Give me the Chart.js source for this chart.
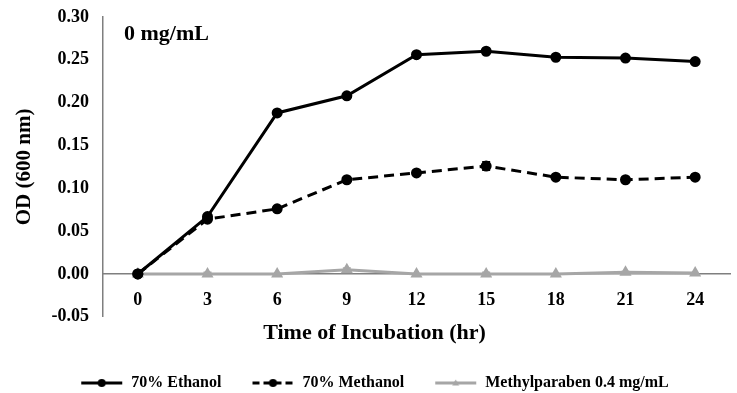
<!DOCTYPE html>
<html>
<head>
<meta charset="utf-8">
<script src="https://cdn.jsdelivr.net/npm/chart.js@4.4.1/dist/chart.umd.min.js"></script>
<style>
  html, body { margin: 0; padding: 0; background: #fff; }
  #wrap { width: 737px; height: 393px; position: relative; }
</style>
</head>
<body>
<div id="wrap"><canvas id="odChart"></canvas></div>
<script>
// values
const hours = ['0', '3', '6', '9', '12', '15', '18', '21', '24']
const ethanol = [0, 0.067, 0.188, 0.208, 0.256, 0.260, 0.253, 0.252, 0.248]
const methanol = [0, 0.064, 0.076, 0.110, 0.118, 0.126, 0.113, 0.110, 0.113]
const paraben = [0, 0, 0, 0.005, 0, 0, 0, 0.002, 0.001]
const methanolErr = [0, 0.002, 0.002, 0.002, 0.002, 0.005, 0.002, 0.002, 0.002]
const parabenErr = [0, 0.002, 0, 0.002, 0, 0.002, 0, 0.001, 0]
const yTicks = [-0.05, 0, 0.05, 0.10, 0.15, 0.20, 0.25, 0.30]

const serif = '"Liberation Serif", "Times New Roman", serif'
const grey = '#a6a6a6'

// legend sample: line + marker drawn on a small canvas
function legendIcon(color, dash, marker) {
    const c = document.createElement('canvas')
    c.width = 43
    c.height = 12
    const g = c.getContext('2d')
    g.strokeStyle = color
    g.fillStyle = color
    g.lineWidth = 3
    g.setLineDash(dash)
    g.beginPath()
    g.moveTo(1, 6)
    g.lineTo(42, 6)
    g.stroke()
    g.setLineDash([])
    g.beginPath()
    if (marker == 'triangle') {
        g.moveTo(21.5, 2.5)
        g.lineTo(25, 8.5)
        g.lineTo(18, 8.5)
        g.closePath()
    } else {
        g.arc(21.5, 6, 4, 0, Math.PI * 2)
    }
    g.fill()
    return c
}

// small vertical error bars
const errorBars = {
    id: 'errorBars',
    afterDatasetsDraw(chart) {
        const ctx = chart.ctx
        const y = chart.scales.y
        chart.data.datasets.forEach((ds, i) => {
            if (!ds.errors) return
            const meta = chart.getDatasetMeta(i)
            ctx.save()
            ctx.strokeStyle = ds.borderColor
            ctx.lineWidth = 1.5
            meta.data.forEach((pt, j) => {
                const e = ds.errors[j]
                if (!e) return
                const top = y.getPixelForValue(ds.data[j] + e)
                const bot = y.getPixelForValue(ds.data[j] - e)
                ctx.beginPath()
                ctx.moveTo(pt.x, top); ctx.lineTo(pt.x, bot)
                ctx.moveTo(pt.x - 4, top); ctx.lineTo(pt.x + 4, top)
                ctx.moveTo(pt.x - 4, bot); ctx.lineTo(pt.x + 4, bot)
                ctx.stroke()
            })
            ctx.restore()
        })
    }
}

// "0 mg/mL" label inside the plot
const panelLabel = {
    id: 'panelLabel',
    afterDraw(chart) {
        const ctx = chart.ctx
        const a = chart.chartArea
        ctx.save()
        ctx.font = 'bold 22px ' + serif
        ctx.fillStyle = '#000'
        ctx.textBaseline = 'middle'
        ctx.fillText('0 mg/mL', a.left + 21, a.top + 17)
        ctx.restore()
    }
}

const ctx = document.getElementById('odChart').getContext('2d')
const odChart = new Chart(ctx, {
    type: 'line',
    data: {
        labels: hours,
        datasets: [{
            label: '70% Ethanol',
            data: ethanol,
            borderColor: '#000',
            backgroundColor: '#000',
            borderWidth: 3,
            pointRadius: 4,
            pointStyle: 'circle',
            icon: legendIcon('#000', [], 'circle')
        }, {
            label: '70% Methanol',
            data: methanol,
            errors: methanolErr,
            borderColor: '#000',
            backgroundColor: '#000',
            borderWidth: 3,
            borderDash: [10, 6],
            pointRadius: 4,
            pointStyle: 'circle',
            icon: legendIcon('#000', [7, 4], 'circle')
        }, {
            label: 'Methylparaben 0.4 mg/mL',
            data: paraben,
            errors: parabenErr,
            borderColor: grey,
            backgroundColor: grey,
            borderWidth: 3,
            pointRadius: 4,
            pointStyle: 'triangle',
            icon: legendIcon(grey, [], 'triangle')
        }]
    },
    options: {
        responsive: true,
        maintainAspectRatio: false,
        animation: false,
        layout: { padding: { top: 17, right: 0, bottom: -8, left: 12 } },
        scales: {
            x: {
                position: { y: 0 },
                offset: true,
                grid: { display: false, drawTicks: false },
                border: { color: '#7f7f7f', width: 1.5 },
                ticks: {
                    padding: 16,
                    color: '#000',
                    font: { family: serif, size: 18, weight: 'bold' }
                }
            },
            y: {
                min: -0.05,
                max: 0.30,
                afterBuildTicks: scale => { scale.ticks = yTicks.map(v => ({ value: v })) },
                afterFit: scale => {
                    scale.width = 91
                    scale.paddingTop = 0
                    scale.paddingBottom = 0
                },
                grid: { display: false, drawTicks: false },
                border: { color: '#7f7f7f', width: 1.5 },
                ticks: {
                    padding: 14,
                    color: '#000',
                    font: { family: serif, size: 18, weight: 'bold' },
                    callback: v => v.toFixed(2)
                },
                title: {
                    display: true,
                    text: 'OD (600 nm)',
                    color: '#000',
                    font: { family: serif, size: 21, weight: 'bold' },
                    padding: { top: 0, bottom: 8 }
                }
            }
        },
        plugins: {
            title: {
                display: true,
                position: 'bottom',
                weight: 500,
                text: 'Time of Incubation (hr)',
                color: '#000',
                font: { family: serif, size: 22, weight: 'bold', lineHeight: 1.1 },
                padding: { top: 4, bottom: 0 }
            },
            legend: {
                position: 'bottom',
                labels: {
                    usePointStyle: true,
                    pointStyleWidth: 43,
                    padding: 30,
                    color: '#000',
                    font: { family: serif, size: 16, weight: 'bold' },
                    generateLabels: chart => chart.data.datasets.map((ds, i) => ({
                        text: ds.label,
                        pointStyle: ds.icon,
                        fillStyle: ds.borderColor,
                        strokeStyle: ds.borderColor,
                        lineWidth: 0,
                        hidden: false,
                        datasetIndex: i
                    }))
                }
            },
            tooltip: { enabled: false }
        }
    },
    plugins: [errorBars, panelLabel]
});
</script>
</body>
</html>
